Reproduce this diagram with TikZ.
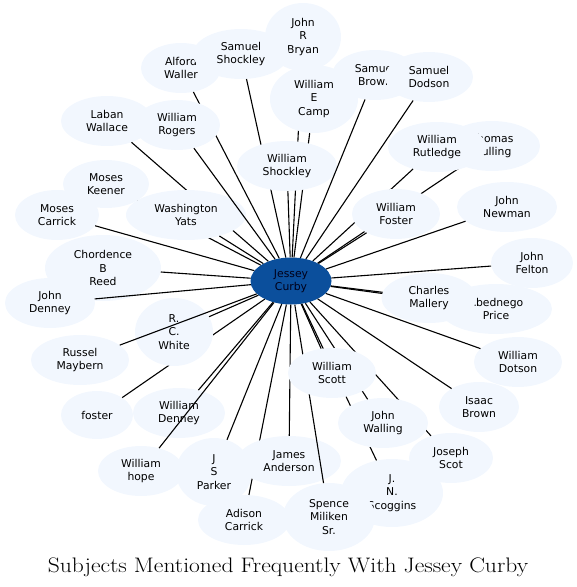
\documentclass[tikz,border=0pt]{standalone}
\usepackage{fontspec}
\setsansfont{DejaVu Sans}
\usetikzlibrary{shapes.geometric}
\definecolor{subjfill}{HTML}{F2F7FE}
\definecolor{hubfill}{HTML}{0B4F9C}
\tikzset{
  subject/.style={ellipse, fill=subjfill, inner sep=0pt, align=center, font=\sffamily\fontsize{10.8}{13.5}\selectfont, minimum height=50pt},
  tall/.style={subject, minimum height=68pt},
  hub/.style={subject, fill=hubfill, text=black!90!blue},
  link/.style={line width=1.1pt, black},
  caption/.style={font=\fontsize{21}{24}\selectfont, anchor=base},
}

\begin{document}
\begin{tikzpicture}[x=1pt, y=-1pt]
  \useasboundingbox (0,0) rectangle (577,587);
  \node[hub, minimum width=81pt, minimum height=47pt] (jc) at (291,281) {Jessey\\Curby};
  \node[tall, minimum width=76pt] (bryan) at (303,37) {John\\R\\Bryan};
  \draw[link] (jc) -- (bryan);
  \node[subject, minimum width=80pt] (alford) at (181,68) {Alford\\Waller};
  \draw[link] (jc) -- (alford);
  \node[subject, minimum width=96pt] (sshock) at (241,54) {Samuel\\Shockley};
  \draw[link] (jc) -- (sshock);
  \node[tall, minimum width=88pt] (camp) at (314,99) {William\\E\\Camp};
  \draw[link] (jc) -- (camp);
  \node[subject, minimum width=100pt] (wshock) at (287,166) {William\\Shockley};
  \draw[link] (jc) -- (wshock);
  \node[subject, minimum width=86pt] (sbrown) at (375,75) {Samuel\\Brown};
  \draw[link] (jc) -- (sbrown);
  \node[subject, minimum width=88pt] (dodson) at (429,77) {Samuel\\Dodson};
  \draw[link] (jc) -- (dodson);
  \node[subject, minimum width=92pt] (laban) at (107,121) {Laban\\Wallace};
  \draw[link] (jc) -- (laban);
  \node[subject, minimum width=86pt, minimum height=48pt] (keener) at (106,184) {Moses\\Keener};
  \draw[link] (jc) -- (keener);
  \node[subject, minimum width=120pt] (yats) at (186,215) {Washington\\Yats};
  \draw[link] (jc) -- (yats);
  \node[subject, minimum width=86pt] (rogers) at (177,125) {William\\Rogers};
  \draw[link] (jc) -- (rogers);
  \node[subject, minimum width=96pt] (mulling) at (492,146) {Thomas\\Mulling};
  \draw[link] (jc) -- (mulling);
  \node[subject, minimum width=98pt] (rutledge) at (437,147) {William\\Rutledge};
  \draw[link] (jc) -- (rutledge);
  \node[subject, minimum width=88pt] (wfoster) at (396,214) {William\\Foster};
  \draw[link] (jc) -- (wfoster);
  \node[subject, minimum width=100pt] (newman) at (507,207) {John\\Newman};
  \draw[link] (jc) -- (newman);
  \node[subject, minimum width=84pt] (carrick) at (57,215) {Moses\\Carrick};
  \draw[link] (jc) -- (carrick);
  \node[tall, minimum width=116pt, minimum height=66pt] (chordence) at (103,268) {Chordence\\B\\Reed};
  \draw[link] (jc) -- (chordence);
  \node[subject, minimum width=90pt] (jdenney) at (50,303) {John\\Denney};
  \draw[link] (jc) -- (jdenney);
  \node[subject, minimum width=82pt] (felton) at (532,263) {John\\Felton};
  \draw[link] (jc) -- (felton);
  \node[subject, minimum width=112pt] (abednego) at (496,309) {Abednego\\Price};
  \draw[link] (jc) -- (abednego);
  \node[subject, minimum width=95pt] (mallery) at (429,298) {Charles\\Mallery};
  \draw[link] (jc) -- (mallery);
  \node[subject, minimum width=72pt, minimum height=48pt] (foster) at (97,415) {foster};
  \draw[link] (jc) -- (foster);
  \node[tall, minimum width=78pt] (rcwhite) at (174,332) {R.\\C.\\White};
  \draw[link] (jc) -- (rcwhite);
  \node[subject, minimum width=98pt] (russel) at (80,360) {Russel\\Maybern};
  \draw[link] (jc) -- (russel);
  \node[subject, minimum width=88pt] (dotson) at (518,362) {William\\Dotson};
  \draw[link] (jc) -- (dotson);
  \node[subject, minimum width=80pt] (ibrown) at (479,407) {Isaac\\Brown};
  \draw[link] (jc) -- (ibrown);
  \node[subject, minimum width=92pt] (wdenney) at (179,413) {William\\Denney};
  \draw[link] (jc) -- (wdenney);
  \node[subject, minimum width=86pt] (hope) at (141,471) {William\\hope};
  \draw[link] (jc) -- (hope);
  \node[subject, minimum width=92pt] (adison) at (244,520) {Adison\\Carrick};
  \draw[link] (jc) -- (adison);
  \node[subject, minimum width=104pt] (anderson) at (289,461) {James\\Anderson};
  \draw[link] (jc) -- (anderson);
  \node[tall, minimum width=76pt] (parker) at (214,472) {J\\S\\Parker};
  \draw[link] (jc) -- (parker);
  \node[tall, minimum width=102pt] (scoggins) at (392,493) {J.\\N.\\Scoggins};
  \draw[link] (jc) -- (scoggins);
  \node[tall, minimum width=92pt] (spence) at (329,517) {Spence\\Miliken\\Sr.};
  \draw[link] (jc) -- (spence);
  \node[subject, minimum width=84pt] (jscot) at (451,458) {Joseph\\Scot};
  \draw[link] (jc) -- (jscot);
  \node[subject, minimum width=90pt] (walling) at (383,423) {John\\Walling};
  \draw[link] (jc) -- (walling);
  \node[subject, minimum width=88pt] (wscott) at (332,373) {William\\Scott};
  \draw[link] (jc) -- (wscott);
  \node[caption] (title) at (288,572) {\scalebox{1.12}[1]{Subjects Mentioned Frequently With Jessey Curby}};
\end{tikzpicture}
\end{document}
